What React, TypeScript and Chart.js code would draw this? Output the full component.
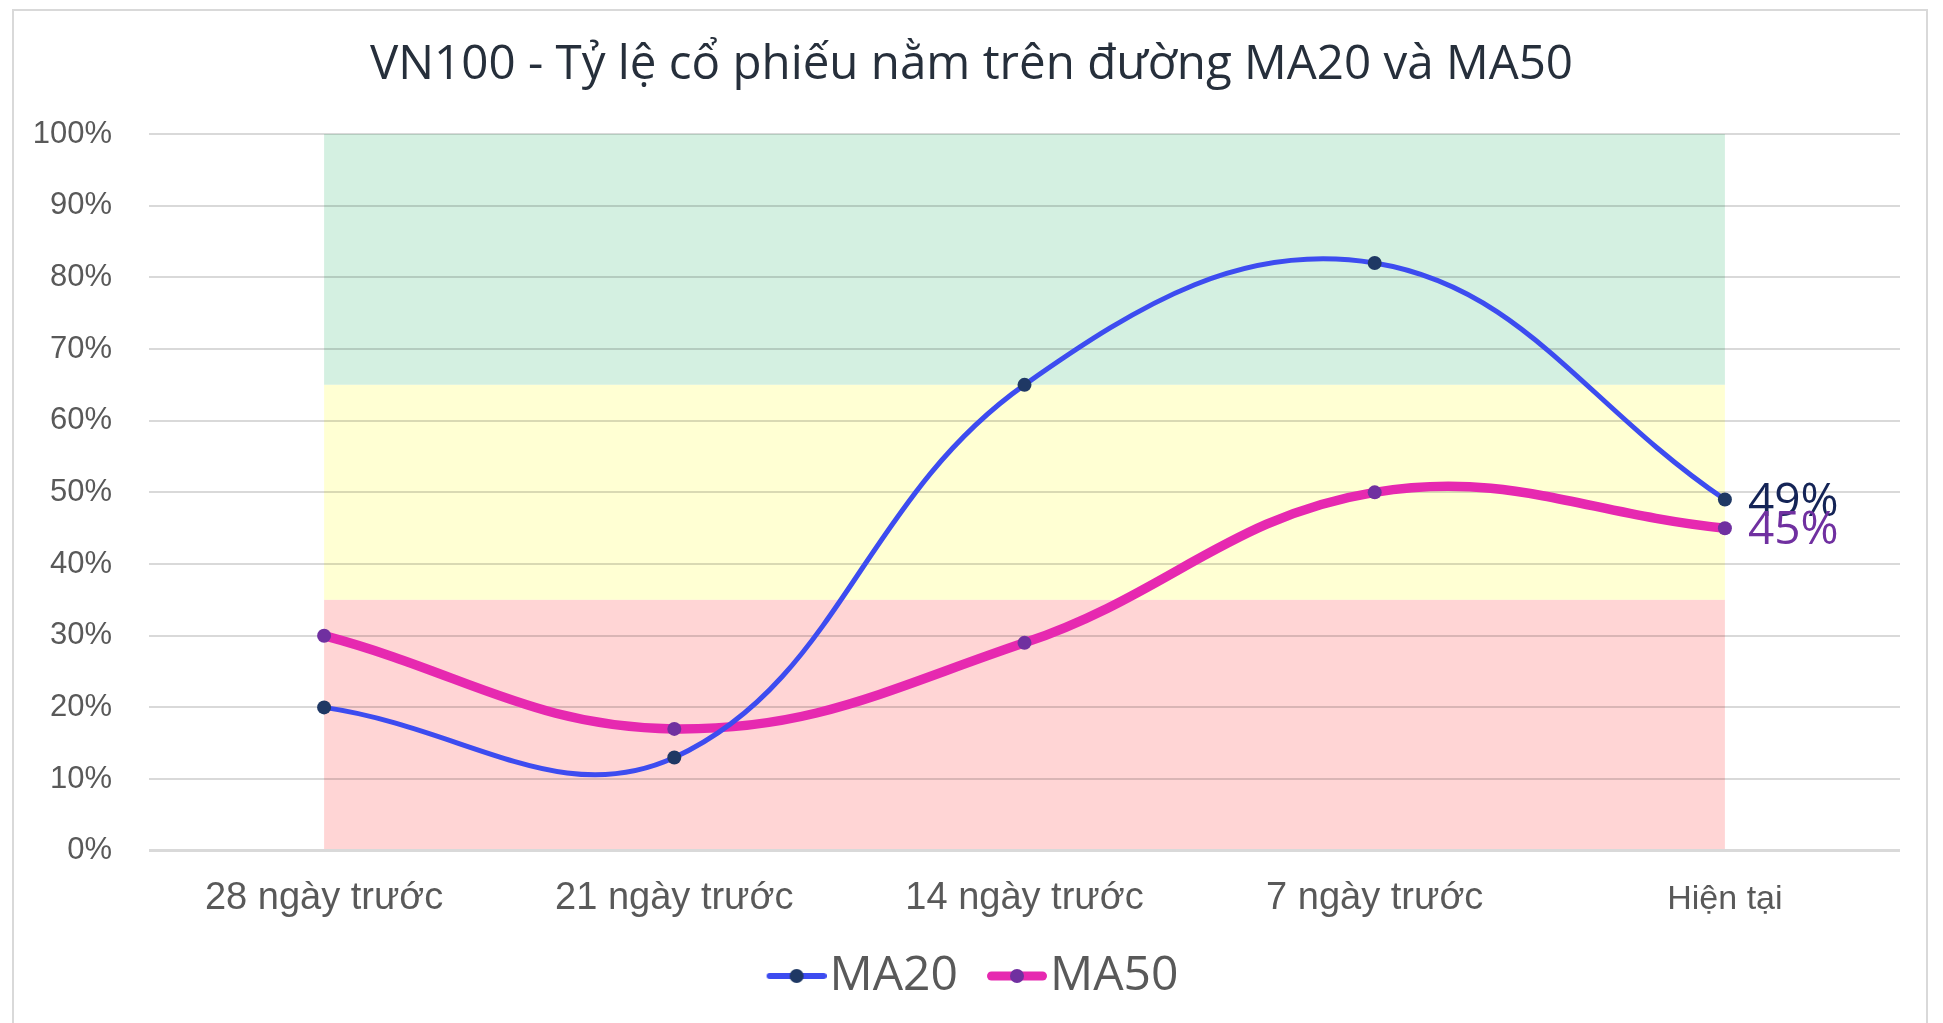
import React, { useEffect, useRef } from 'react';
import { Chart, registerables } from 'chart.js';

Chart.register(...registerables);

const titleText = 'VN100 - Tỷ lệ cổ phiếu nằm trên đường MA20 và MA50';
const categories = ['28 ngày trước', '21 ngày trước', '14 ngày trước', '7 ngày trước', 'Hiện tại'];
const seriesNames = ['MA20', 'MA50'];
const ma20Values = [20, 13, 65, 82, 49];
const ma50Values = [30, 17, 29, 50, 45];
const bandFrom = [65, 35, 0];
const bandTo = [100, 65, 35];
const bandColors = ['rgb(212,240,225)', 'rgb(255,255,211)', 'rgb(255,213,213)'];

const BLUE = '#3d4cf0';
const PINK = '#e629b0';
const NAVY = '#1f3864';
const PURPLE = '#7030a0';
const LABEL_NAVY = '#142456';

const LEGEND_BOX = 65;

function makeMarker(lineColor: string, lineWidth: number, dotColor: string) {
  const w = LEGEND_BOX + 42;
  const c = document.createElement('canvas');
  c.width = w;
  c.height = 20;
  const ctx = c.getContext('2d')!;
  ctx.strokeStyle = lineColor;
  ctx.lineWidth = lineWidth;
  ctx.lineCap = 'round';
  ctx.beginPath();
  ctx.moveTo(w - 60 + lineWidth / 2, 10);
  ctx.lineTo(w - lineWidth / 2, 10);
  ctx.stroke();
  ctx.fillStyle = dotColor;
  ctx.beginPath();
  ctx.arc(w - 30, 10, 7, 0, Math.PI * 2);
  ctx.fill();
  return c;
}

const frameAndBands = {
  id: 'frameAndBands',
  afterLayout(chart: any) {
    if (chart.legend) {
      chart.legend.left -= 6;
      chart.legend.right -= 6;
    }
    if (chart.titleBlock) {
      chart.titleBlock.left += 6;
      chart.titleBlock.right += 6;
    }
  },
  beforeDraw(chart: any) {
    const { ctx, scales } = chart;
    const x = scales.x;
    const y = scales.y;
    ctx.save();
    ctx.strokeStyle = '#d9d9d9';
    ctx.lineWidth = 2;
    ctx.strokeRect(13, 10, 1914, 1100);
    const x0 = x.getPixelForValue(0);
    const x1 = x.getPixelForValue(categories.length - 1);
    for (let i = 0; i < bandFrom.length; i++) {
      const yTop = y.getPixelForValue(bandTo[i]);
      const yBot = y.getPixelForValue(bandFrom[i]);
      ctx.fillStyle = bandColors[i];
      ctx.fillRect(x0, yTop, x1 - x0, yBot - yTop);
    }
    ctx.restore();
  },
};

const endLabels = {
  id: 'endLabels',
  afterDatasetsDraw(chart: any) {
    const { ctx } = chart;
    const colors = [LABEL_NAVY, PURPLE];
    ctx.save();
    ctx.font = '46px "Open Sans"';
    ctx.textAlign = 'left';
    ctx.textBaseline = 'alphabetic';
    chart.data.datasets.forEach((ds: any, i: number) => {
      const meta = chart.getDatasetMeta(i);
      const last = meta.data[meta.data.length - 1];
      const v = ds.data[ds.data.length - 1];
      ctx.fillStyle = colors[i];
      ctx.fillText(v + '%', last.x + 23, last.y + 16);
    });
    ctx.restore();
  },
};

export default function App() {
  const ref = useRef<HTMLCanvasElement>(null);

  useEffect(() => {
    if (!ref.current) return;
    const markers = [makeMarker(BLUE, 6, NAVY), makeMarker(PINK, 9, PURPLE)];
    const chart = new Chart(ref.current, {
      type: 'line',
      data: {
        labels: categories,
        datasets: [
          {
            label: seriesNames[0],
            data: ma20Values,
            borderColor: BLUE,
            borderWidth: 5,
            pointBackgroundColor: NAVY,
            pointBorderColor: NAVY,
            pointRadius: 7,
            pointBorderWidth: 0,
            tension: 0.4,
          },
          {
            label: seriesNames[1],
            data: ma50Values,
            borderColor: PINK,
            borderWidth: 9.5,
            pointBackgroundColor: PURPLE,
            pointBorderColor: PURPLE,
            pointRadius: 7,
            pointBorderWidth: 0,
            tension: 0.4,
          },
        ],
      },
      options: {
        animation: false,
        responsive: true,
        maintainAspectRatio: false,
        layout: { padding: { left: 31, right: 43, top: 0, bottom: 13 } },
        plugins: {
          tooltip: { enabled: false },
          title: {
            display: true,
            text: titleText,
            color: '#262f3b',
            font: { family: '"Open Sans"', size: 47.5, weight: 'normal' },
            padding: { top: 37, bottom: 40 },
          },
          legend: {
            position: 'bottom',
            labels: {
              usePointStyle: true,
              pointStyleWidth: LEGEND_BOX,
              boxHeight: 16,
              padding: 3,
              color: '#595959',
              font: { family: '"Open Sans"', size: 48 },
              generateLabels: (c: any) => {
                const items = Chart.defaults.plugins.legend.labels.generateLabels(c);
                return items.map((it: any, i: number) => ({ ...it, pointStyle: markers[i], rotation: 0 }));
              },
            },
          },
        },
        scales: {
          x: {
            offset: true,
            grid: { display: false, drawTicks: false },
            border: { display: false },
            ticks: {
              padding: 25,
              color: '#595959',
              maxRotation: 0,
              font: (ctx: any) =>
                ctx.index === categories.length - 1
                  ? { family: '"Liberation Sans", Arial', size: 34, lineHeight: 1.42 }
                  : { family: '"Liberation Sans", Arial', size: 38 },
            },
          },
          y: {
            min: 0,
            max: 100,
            afterFit: (scale: any) => {
              scale.width = 118;
            },
            border: { display: false },
            grid: {
              drawTicks: false,
              color: (ctx: any) => (ctx.index === 0 ? '#d9d9d9' : 'rgba(0,0,0,0.15)'),
              lineWidth: (ctx: any) => (ctx.index === 0 ? 3 : 2),
            },
            ticks: {
              stepSize: 10,
              padding: 37,
              color: '#595959',
              font: { family: '"Liberation Sans", Arial', size: 31 },
              callback: (v: any) => v + '%',
            },
          },
        },
      },
      plugins: [frameAndBands, endLabels],
    });
    return () => chart.destroy();
  }, []);

  return (
    <div style={{ position: 'absolute', left: 0, top: 0, width: 1943, height: 1023, background: '#fff' }}>
      <canvas ref={ref} />
    </div>
  );
}
